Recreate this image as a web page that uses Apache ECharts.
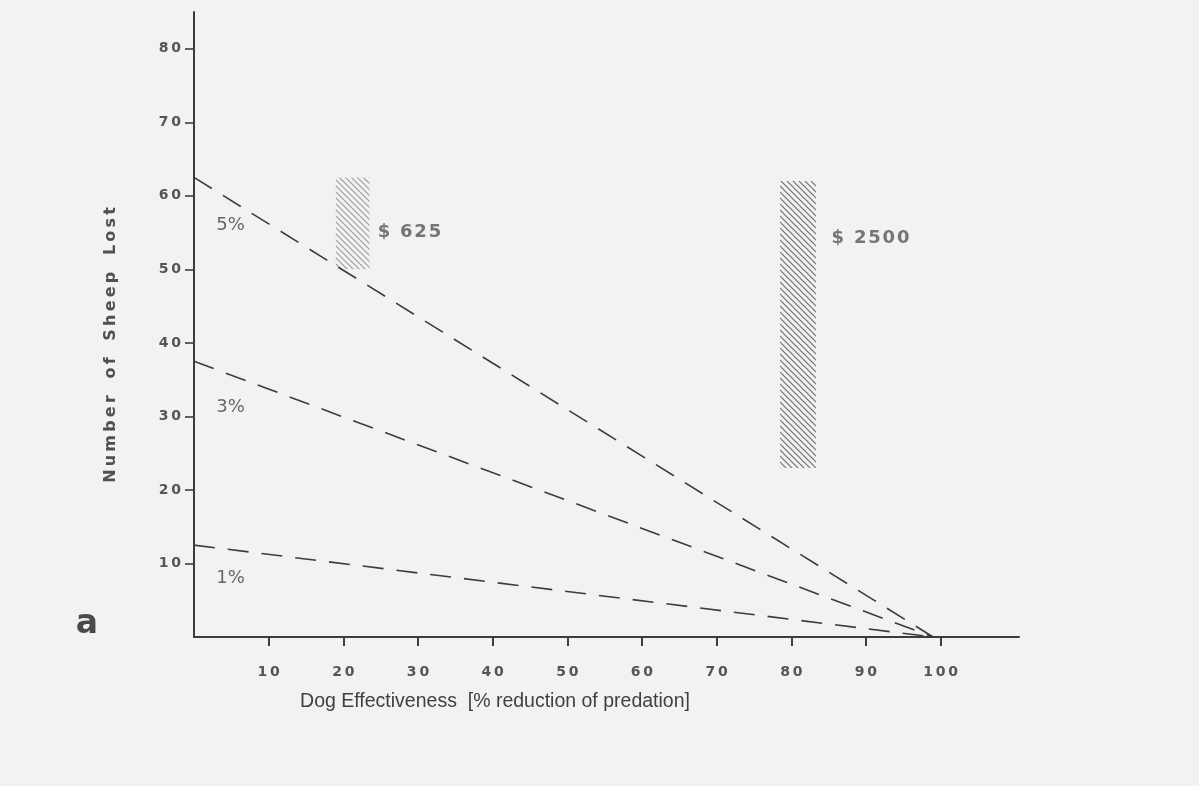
<!DOCTYPE html>
<html>
<head>
<meta charset="utf-8">
<script src="https://cdn.jsdelivr.net/npm/echarts@6/dist/echarts.min.js"></script>
<style>
html,body{margin:0;padding:0;background:#f2f2f1;}
#chart{width:1199px;height:786px;}
</style>
</head>
<body>
<div id="chart"></div>
<script>
// ---- data ----
const effectiveness = [0, 99];          // % reduction of predation
const loss1 = [12.5, 0];                // 1% predation rate
const loss3 = [37.5, 0];                // 3% predation rate
const loss5 = [62.5, 0];                // 5% predation rate
const xTicks = [10, 20, 30, 40, 50, 60, 70, 80, 90, 100];
const yTicks = [10, 20, 30, 40, 50, 60, 70, 80];
// hatched cost bars: [xStart, xEnd, yLow, yHigh]
const bar625 = [19, 23.5, 50, 62.5];
const bar2500 = [78.5, 83.3, 23, 62];
const barLabels = ['$ 625', '$ 2500'];
const lineLabels = ['5%', '3%', '1%'];
const lineLabelPos = [[4.9, 56], [4.9, 31.3], [4.9, 8]];
const barLabelPos = [[24.6, 55], [85.4, 54.2]];

const ink = '#3c3c3c';
const grey = '#555';

function hatch() {
  const c = document.createElement('canvas');
  c.width = 6; c.height = 6;
  const g = c.getContext('2d');
  g.strokeStyle = 'rgba(90,90,90,0.85)';
  g.lineWidth = 1.2;
  g.beginPath();
  g.moveTo(0, 0); g.lineTo(6, 6);
  g.moveTo(-3, 3); g.lineTo(3, 9);
  g.moveTo(3, -3); g.lineTo(9, 3);
  g.stroke();
  return c;
}
const pattern = { image: hatch(), repeat: 'repeat' };

const spaced = v => String(v).split('').join('\u2009');

function lineSeries(vals) {
  return {
    type: 'line',
    data: effectiveness.map((x, i) => [x, vals[i]]),
    symbol: 'none',
    lineStyle: { color: ink, width: 1.6, type: [21, 13] },
    z: 3
  };
}

const chart = echarts.init(document.getElementById('chart'), null, { renderer: 'canvas' });
chart.setOption({
  backgroundColor: '#f2f2f1',
  animation: false,
  grid: { left: 194, right: 180, top: 12, bottom: 149 },
  xAxis: {
    type: 'value', min: 0, max: 110.5, interval: 10,
    axisLine: { show: true, onZero: false, lineStyle: { color: ink, width: 2 } },
    axisTick: { show: true, customValues: xTicks, length: 9, inside: false, lineStyle: { color: ink, width: 2 } },
    axisLabel: { customValues: xTicks, formatter: spaced, margin: 28, color: grey,
      fontFamily: 'DejaVu Sans', fontWeight: 'bold', fontSize: 14 },
    splitLine: { show: false }
  },
  yAxis: {
    type: 'value', min: 0, max: 85, interval: 10,
    axisLine: { show: true, onZero: false, lineStyle: { color: ink, width: 2 } },
    axisTick: { show: true, customValues: yTicks, length: 9, lineStyle: { color: ink, width: 1.6 } },
    axisLabel: { customValues: yTicks, formatter: spaced, margin: 13, color: grey,
      fontFamily: 'DejaVu Sans', fontWeight: 'bold', fontSize: 14 },
    splitLine: { show: false }
  },
  series: [
    lineSeries(loss5),
    lineSeries(loss3),
    lineSeries(loss1),
    {
      type: 'custom',
      data: [bar625, bar2500],
      renderItem: function (params, api) {
        const p0 = api.coord([api.value(0), api.value(3)]);
        const p1 = api.coord([api.value(1), api.value(2)]);
        return {
          type: 'rect',
          shape: { x: p0[0], y: p0[1], width: p1[0] - p0[0], height: p1[1] - p0[1] },
          style: { fill: pattern, opacity: params.dataIndex === 0 ? 0.65 : 1 }
        };
      },
      z: 2
    },
    {
      type: 'scatter',
      data: lineLabelPos.map((p, i) => ({ value: p, name: lineLabels[i] })),
      symbolSize: 0,
      label: { show: true, position: 'inside', formatter: '{b}', color: '#444',
        fontFamily: 'DejaVu Sans', fontSize: 18 },
      z: 4
    },
    {
      type: 'scatter',
      data: barLabelPos.map((p, i) => ({ value: p, name: barLabels[i] })),
      symbolSize: 0,
      label: { show: true, position: 'right', distance: 0,
        formatter: p => p.name.split('').join('\u200A'), color: '#555',
        fontFamily: 'DejaVu Sans', fontWeight: 'bold', fontSize: 18 },
      z: 4
    }
  ],
  graphic: [
    {
      type: 'text', x: 111, y: 345, rotation: Math.PI / 2,
      style: { text: 'Number of Sheep Lost'.split('').join('\u2009').replace(/\u2009 \u2009/g, '   '),
        fill: '#505050', font: 'bold 16px "DejaVu Sans"', align: 'center', verticalAlign: 'middle' }
    },
    {
      type: 'text', x: 495, y: 702,
      style: { text: 'Dog Effectiveness  [% reduction of predation]',
        fill: '#404040', font: '19.5px "Liberation Sans Narrow", "Liberation Sans", sans-serif',
        align: 'center', verticalAlign: 'middle' }
    },
    {
      type: 'text', x: 87, y: 624,
      style: { text: 'a', fill: '#4a4a4a', font: 'bold 33px "DejaVu Sans"',
        align: 'center', verticalAlign: 'middle' }
    }
  ]
});
</script>
</body>
</html>
